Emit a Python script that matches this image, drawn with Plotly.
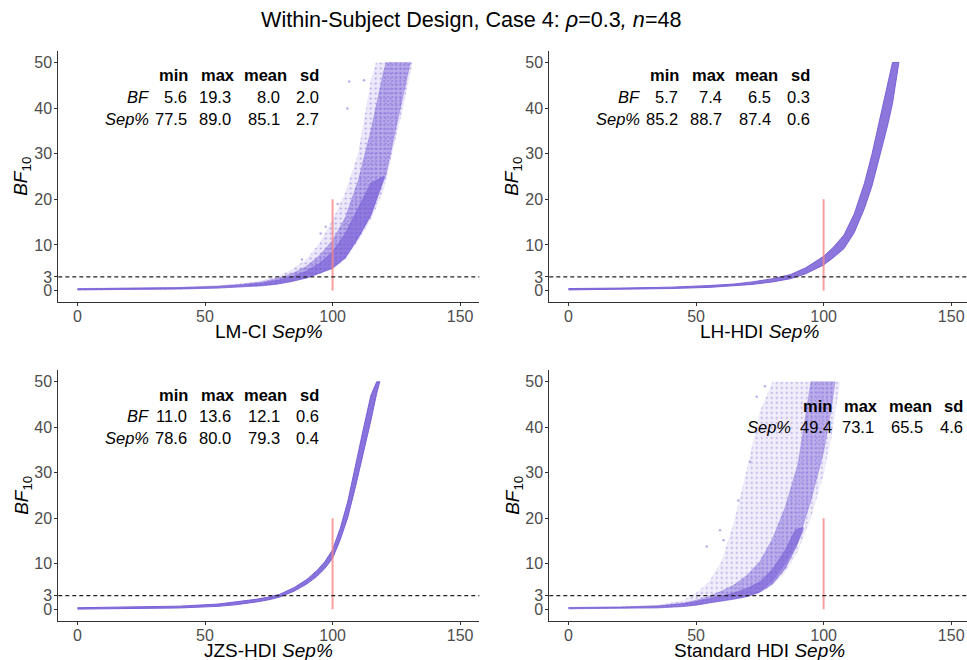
import plotly.graph_objects as go

# ---------------------------------------------------------------- data
# Envelopes of the simulated BF10 vs Sep% clouds (outer = sparse spread,
# core = medium density, dense = heaviest concentration of points).

# LM-CI
lmci_sep = [0, 20, 40, 55, 65, 72, 78, 84, 90, 95, 100, 105, 110, 115, 117, 120, 125, 128, 131.3]
lmci_bf_lo = [0.1, 0.15, 0.3, 0.5, 0.75, 1.0, 1.35, 1.9, 2.7, 3.7, 4.6, 6.8, 10.8, 15.6, 18, 22, 34, 41, 50]
lmci_bf_hi = [0.5, 0.6, 0.8, 1.1, 1.6, 2.2, 3.0, 4.6, 7.0, 10.5, 15.5, 21.5, 30, 46, 50, 50, 50, 50, 50]
lmci_core_sep = [0, 20, 40, 55, 65, 72, 78, 84, 90, 95, 100, 105, 110, 115, 120, 121, 125, 128, 130.5]
lmci_core_lo = [0.15, 0.2, 0.35, 0.55, 0.8, 1.05, 1.4, 2.0, 2.8, 3.9, 4.9, 7.2, 11.5, 16.5, 24, 25.5, 36, 44, 50]
lmci_core_hi = [0.45, 0.55, 0.7, 1.0, 1.4, 1.9, 2.6, 3.7, 5.4, 7.8, 11, 16, 24, 35, 48, 50, 50, 50, 50]
lmci_dense_sep = [0, 20, 40, 55, 65, 72, 78, 84, 90, 95, 100, 105, 110, 115, 120]
lmci_dense_lo = [0.15, 0.2, 0.35, 0.55, 0.8, 1.05, 1.4, 2.0, 2.8, 3.9, 4.9, 7.2, 11.5, 16.5, 24.5]
lmci_dense_hi = [0.4, 0.5, 0.65, 0.9, 1.25, 1.6, 2.2, 3.0, 4.3, 6.0, 8.5, 12.5, 18, 23.5, 25]
lmci_stray_sep = [106.5, 105.8, 112.3, 95.3, 97.3, 88.0, 102.0]
lmci_stray_bf = [45.8, 39.9, 46.1, 12.5, 14.0, 6.8, 19.0]

# LH-HDI
lh_sep = [0, 20, 40, 55, 65, 72, 80, 87, 93, 100, 104, 108, 112, 116, 119, 122, 125, 127, 129.5]
lh_bf_lo = [0.15, 0.25, 0.45, 0.7, 1.0, 1.35, 1.9, 2.6, 3.7, 5.6, 7.3, 9.2, 12.7, 18, 23, 29.5, 36, 41, 50]
lh_bf_hi = [0.45, 0.55, 0.75, 1.1, 1.45, 1.9, 2.6, 3.5, 5.0, 7.5, 9.6, 12.2, 16.8, 23.5, 30, 37.5, 45, 50, 50]

# JZS-HDI
jzs_sep = [0, 20, 40, 55, 62, 70, 75, 79.3, 85, 90, 94, 97, 100, 103, 106, 109, 112, 115, 117.3, 118.5]
jzs_bf_lo = [0.05, 0.12, 0.3, 0.65, 1.0, 1.6, 2.1, 2.7, 4.0, 5.6, 7.3, 9.0, 11.2, 15.3, 20.3, 27, 34, 41.5, 47.5, 50]
jzs_bf_hi = [0.35, 0.45, 0.7, 1.15, 1.6, 2.2, 2.7, 3.3, 4.8, 6.6, 8.6, 10.5, 13.1, 17.8, 23.8, 31.5, 39.5, 47, 50, 50]

# Standard HDI
std_sep = [0, 20, 35, 45, 50, 55, 60, 65, 70, 75, 80, 85, 90, 95, 100, 103, 106.5]
std_bf_lo = [0.1, 0.15, 0.3, 0.6, 0.9, 1.4, 1.8, 2.2, 2.7, 3.6, 5.2, 8.1, 12.8, 20, 29.5, 37.5, 50]
std_bf_hi = [0.45, 0.55, 0.9, 2.0, 3.6, 6.0, 10.5, 19.5, 31, 43.5, 50, 50, 50, 50, 50, 50, 50]
std_core_sep = [0, 20, 35, 45, 50, 55, 60, 65, 70, 75, 80, 85, 90, 95, 100, 103, 104.5]
std_core_lo = [0.12, 0.18, 0.32, 0.62, 0.92, 1.4, 1.8, 2.25, 2.8, 3.8, 6.2, 10, 15, 23.8, 34.5, 44, 50]
std_core_hi = [0.4, 0.5, 0.8, 1.4, 2.0, 2.8, 4.0, 5.4, 7.5, 10.5, 15.5, 22.5, 32, 50, 50, 50, 50]
std_dense_sep = [0, 20, 35, 45, 50, 55, 60, 65, 70, 75, 80, 85, 89, 92]
std_dense_lo = [0.12, 0.18, 0.32, 0.62, 0.92, 1.4, 1.8, 2.25, 2.8, 3.8, 5.6, 9.0, 13.5, 17.5]
std_dense_hi = [0.4, 0.5, 0.75, 1.2, 1.7, 2.3, 2.9, 3.6, 4.6, 6.0, 8.8, 13, 17.5, 18]
std_stray_sep = [73.8, 60.8, 59.4, 66.6, 71.1, 54.2, 77.0]
std_stray_bf = [46.7, 15.2, 17.4, 23.9, 32.4, 13.8, 49.0]

# summary tables
stat_cols = ["min", "max", "mean", "sd"]
lmci_bf_stats = [5.6, 19.3, 8.0, 2.0]
lmci_sep_stats = [77.5, 89.0, 85.1, 2.7]
lh_bf_stats = [5.7, 7.4, 6.5, 0.3]
lh_sep_stats = [85.2, 88.7, 87.4, 0.6]
jzs_bf_stats = [11.0, 13.6, 12.1, 0.6]
jzs_sep_stats = [78.6, 80.0, 79.3, 0.4]
std_sep_stats = [49.4, 73.1, 65.5, 4.6]

# reference marks
ref_sep = [100, 100]
ref_bf = [0, 20]
bf_threshold = 3

x_ticks = [0, 50, 100, 150]
y_ticks = [0, 3, 10, 20, 30, 40, 50]

panel_titles = ["LM-CI <i>Sep%</i>", "LH-HDI <i>Sep%</i>",
                "JZS-HDI <i>Sep%</i>", "Standard HDI <i>Sep%</i>"]

# ---------------------------------------------------------------- layout
W, H = 967, 660
FONT = "Liberation Sans, Arial, Helvetica, sans-serif"
PURPLE = (120, 94, 214)


def rgba(a, c=PURPLE):
    return "rgba(%d,%d,%d,%.2f)" % (c[0], c[1], c[2], a)


def px_x(p):
    return p / W


def px_y(p):
    return 1 - p / H


# pixel boxes of the four panels: (left, right, top, bottom)
boxes = [(58.3, 479.3, 51.0, 302.0), (549.3, 967.0, 51.0, 302.0),
         (58.3, 479.3, 370.4, 620.7), (549.3, 967.0, 370.4, 620.7)]
x_ranges = [[-7.5, 157.5], [-7.5, 156.2], [-7.5, 157.5], [-7.5, 156.2]]

fig = go.Figure()


def band(i, sep, lo, hi, alpha, lw=0.8, dotted=None):
    """Filled envelope; `dotted` = (pattern size, solidity) gives a speckled fill."""
    ax = "" if i == 0 else str(i + 1)
    kw = {}
    if dotted is not None:
        kw["fillpattern"] = dict(shape=".", size=dotted[0], solidity=dotted[1],
                                 fgcolor=rgba(1.0), fgopacity=0.55,
                                 fillmode="overlay")
    fig.add_trace(go.Scatter(
        x=list(sep) + list(sep)[::-1], y=list(lo) + list(hi)[::-1],
        fill="toself", fillcolor=rgba(alpha), mode="lines",
        line=dict(color=rgba(min(1, alpha + 0.1)), width=lw),
        xaxis="x" + ax, yaxis="y" + ax, hoverinfo="skip", showlegend=False,
        **kw))


def dots(i, sep, bf):
    ax = "" if i == 0 else str(i + 1)
    fig.add_trace(go.Scatter(
        x=sep, y=bf, mode="markers",
        marker=dict(size=2.5, color=rgba(0.5), line=dict(width=0)),
        xaxis="x" + ax, yaxis="y" + ax, hoverinfo="skip", showlegend=False))


def ref_line(i):
    ax = "" if i == 0 else str(i + 1)
    fig.add_trace(go.Scatter(
        x=ref_sep, y=ref_bf, mode="lines",
        line=dict(color="rgba(244,135,135,0.8)", width=2),
        xaxis="x" + ax, yaxis="y" + ax, hoverinfo="skip", showlegend=False))


# panel 1: LM-CI
band(0, lmci_sep, lmci_bf_lo, lmci_bf_hi, 0.14, lw=0, dotted=(5, 0.12))
band(0, lmci_core_sep, lmci_core_lo, lmci_core_hi, 0.46, lw=0.5, dotted=(4, 0.2))
band(0, lmci_dense_sep, lmci_dense_lo, lmci_dense_hi, 0.62)
dots(0, lmci_stray_sep, lmci_stray_bf)
ref_line(0)

# panel 2: LH-HDI
band(1, lh_sep, lh_bf_lo, lh_bf_hi, 0.85, lw=1)
ref_line(1)

# panel 3: JZS-HDI
band(2, jzs_sep, jzs_bf_lo, jzs_bf_hi, 0.88, lw=1)
ref_line(2)

# panel 4: Standard HDI
band(3, std_sep, std_bf_lo, std_bf_hi, 0.1, lw=0, dotted=(5, 0.12))
band(3, std_core_sep, std_core_lo, std_core_hi, 0.42, lw=0.5, dotted=(4, 0.2))
band(3, std_dense_sep, std_dense_lo, std_dense_hi, 0.62)
dots(3, std_stray_sep, std_stray_bf)
ref_line(3)

layout = dict(
    width=W, height=H, margin=dict(l=0, r=0, t=0, b=0),
    paper_bgcolor="white", plot_bgcolor="white",
    font=dict(family=FONT, color="black"), showlegend=False,
)

shapes = []
annotations = []
axis_common = dict(showline=True, linecolor="#333333", linewidth=1.1,
                   ticks="outside", ticklen=3, tickwidth=1, tickcolor="#333333",
                   showgrid=False, zeroline=False,
                   tickfont=dict(family=FONT, size=16, color="#4d4d4d"))

for i, (l, r, t, b) in enumerate(boxes):
    key = "" if i == 0 else str(i + 1)
    layout["xaxis" + key] = dict(axis_common, domain=[px_x(l), px_x(r)],
                                 range=x_ranges[i], tickvals=x_ticks,
                                 ticklabelstandoff=-3, anchor="y" + key)
    layout["yaxis" + key] = dict(axis_common, domain=[px_y(b), px_y(t)],
                                 range=[-2.5, 52.5], tickvals=y_ticks,
                                 ticklabelstandoff=-1, anchor="x" + key)
    # BF = 3 threshold
    shapes.append(dict(type="line", xref="x" + key + " domain", x0=0, x1=1,
                       yref="y" + key, y0=bf_threshold, y1=bf_threshold,
                       line=dict(color="#222222", width=1.2, dash="4px,3px"),
                       layer="above"))
    # axis titles
    cx = (l + r) / 2 if i % 2 == 0 else (l + 970.0) / 2
    annotations.append(dict(text=panel_titles[i], xref="paper", yref="paper",
                            x=px_x(cx), y=px_y(b + 29.5), xanchor="center",
                            yanchor="middle", showarrow=False,
                            font=dict(size=19, family=FONT, color="black")))
    annotations.append(dict(text="<i>BF</i><sub>10</sub>", xref="paper",
                            yref="paper", x=px_x(l - 36), y=px_y((t + b) / 2),
                            xanchor="center", yanchor="middle", textangle=-90,
                            showarrow=False,
                            font=dict(size=19, family=FONT, color="black")))


def table(i, rows, label_x, num_right, head_x, head_y, row_y):
    key = "" if i == 0 else str(i + 1)
    tf = dict(size=16.5, family=FONT, color="black")
    for name, hx in zip(stat_cols, head_x):
        annotations.append(dict(text="<b>%s</b>" % name, x=hx, y=head_y,
                                xref="x" + key, yref="y" + key,
                                xanchor="center", yanchor="middle",
                                showarrow=False, font=tf))
    for (label, vals), ry in zip(rows, row_y):
        annotations.append(dict(text="<i>%s</i>" % label, x=label_x, y=ry,
                                xref="x" + key, yref="y" + key,
                                xanchor="right", yanchor="middle",
                                showarrow=False, font=tf))
        for v, nx in zip(vals, num_right):
            annotations.append(dict(text="%.1f" % v, x=nx, y=ry,
                                    xref="x" + key, yref="y" + key,
                                    xanchor="right", yanchor="middle",
                                    showarrow=False, font=tf))


left_num = [43.6, 61.1, 80.0, 95.4]
left_head = [37.7, 54.9, 73.8, 91.0]
table(0, [("BF", lmci_bf_stats), ("Sep%", lmci_sep_stats)], 28.7,
      left_num, left_head, 47.2, [42.5, 37.6])
table(1, [("BF", lh_bf_stats), ("Sep%", lh_sep_stats)], 28.7,
      left_num, left_head, 47.2, [42.5, 37.6])
table(2, [("BF", jzs_bf_stats), ("Sep%", jzs_sep_stats)], 28.7,
      left_num, left_head, 47.2, [42.5, 37.6])
table(3, [("Sep%", std_sep_stats)], 88.2,
      [103.9, 120.6, 139.8, 155.5], [97.7, 114.6, 133.9, 151.1], 44.7, [40.0])

# main title
annotations.append(dict(
    text="Within-Subject Design, Case 4: <i>\u03c1</i>=0.3<i>, n</i>=48",
    xref="paper", yref="paper", x=px_x(471.7), y=px_y(20), xanchor="center",
    yanchor="middle", showarrow=False,
    font=dict(size=21.6, family=FONT, color="black")))

layout["shapes"] = shapes
layout["annotations"] = annotations
fig.update_layout(**layout)
fig.write_html("out.html")
